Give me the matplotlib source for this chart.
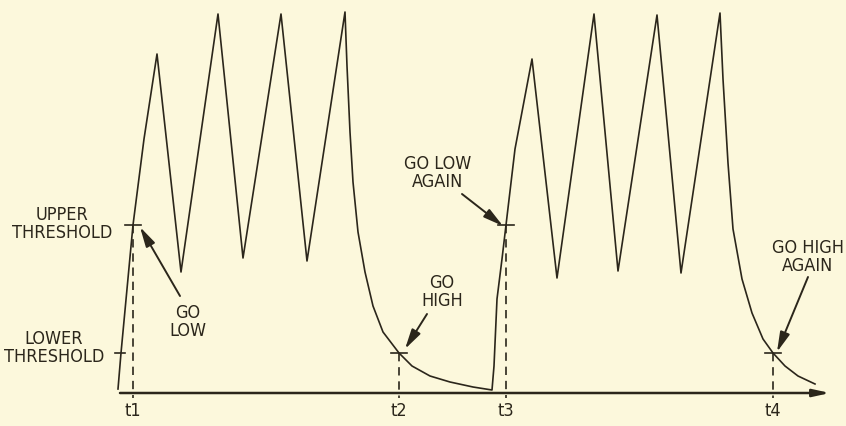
import matplotlib
matplotlib.use('agg')
import matplotlib.pyplot as plt
from matplotlib import font_manager

# waveform (time, volts - arbitrary units)
wave_t = [0.00, 0.03, 0.09, 0.15, 0.26, 0.39,
          0.63, 1.00, 1.25, 1.63, 1.89, 2.27,
          2.29, 2.32, 2.35, 2.40, 2.47, 2.55, 2.65, 2.81, 2.94, 3.12, 3.32, 3.55, 3.74,
          3.76, 3.79, 3.84, 3.88, 3.97, 4.14,
          4.39, 4.76, 5.00, 5.39, 5.63, 6.02,
          6.05, 6.10, 6.15, 6.24, 6.34, 6.45, 6.55, 6.67, 6.80, 6.97]
wave_v = [0.04, 0.40, 1.04, 1.68, 2.54, 3.39,
          1.21, 3.79, 1.35, 3.79, 1.32, 3.81,
          3.27, 2.61, 2.11, 1.61, 1.21, 0.87, 0.61, 0.40, 0.27, 0.17, 0.11, 0.06, 0.03,
          0.27, 0.94, 1.34, 1.68, 2.44, 3.34,
          1.15, 3.79, 1.22, 3.78, 1.20, 3.80,
          3.14, 2.30, 1.64, 1.14, 0.80, 0.54, 0.40, 0.27, 0.17, 0.09]

upper = 1.68
lower = 0.40

# switching instants and the threshold they cross
t_names = ['t1', 't2', 't3', 't4']
t_times = [0.15, 2.81, 3.88, 6.55]
t_levels = [upper, lower, upper, lower]

# callouts: text, text centre, arrow tail, arrow tip
notes = ['GO\nLOW', 'GO\nHIGH', 'GO LOW\nAGAIN', 'GO HIGH\nAGAIN']
note_xy = [(0.70, 0.72), (3.24, 1.02), (3.20, 2.21), (6.90, 1.37)]
tail_xy = [(0.62, 0.97), (3.09, 0.79), (3.44, 1.99), (6.90, 1.16)]
tip_xy = [(0.22, 1.66), (2.87, 0.44), (3.85, 1.67), (6.59, 0.41)]

bg = '#fcf8dc'
ink = '#2b261b'
fs = 13

# narrow face if we have one, otherwise plain DejaVu a bit smaller
names = set(f.name for f in font_manager.fontManager.ttflist)
if 'Liberation Sans Narrow' in names:
    fam = ['Liberation Sans Narrow', 'DejaVu Sans']
    stretch = 'normal'
else:
    fam = ['DejaVu Sans']
    stretch = 'condensed'
    condensed = [f for f in font_manager.fontManager.ttflist
                 if f.name == 'DejaVu Sans' and f.stretch == 'condensed']
    if not condensed:
        fs = 11.5

fig = plt.figure(figsize=(8.46, 4.27), dpi=100, facecolor=bg)
ax = fig.add_axes([0, 0, 1, 1])
ax.set_facecolor(bg)
ax.set_xlim(-1.18, 7.28)
ax.set_ylim(-0.33, 3.94)
ax.axis('off')

tk = dict(fontsize=fs, family=fam, stretch=stretch, color=ink,
          ha='center', va='center', linespacing=1.0)

# time axis with arrow
ax.annotate('', xy=(7.12, 0), xytext=(0.02, 0),
            arrowprops=dict(arrowstyle='-|>,head_length=1.0,head_width=0.22',
                            lw=1.8, color=ink, shrinkA=0, shrinkB=0),
            annotation_clip=False)

# waveform
ax.plot(wave_t, wave_v, color=ink, lw=1.2)

# dashed drop lines and the little cross ticks
for name, tt, lv in zip(t_names, t_times, t_levels):
    ax.plot([tt, tt], [lv, -0.05], color=ink, lw=1.2, ls=(0, (5, 3.5)))
    ax.plot([tt - 0.08, tt + 0.08], [lv, lv], color=ink, lw=1.2)
    ax.text(tt, -0.17, name, **tk)
ax.plot([-0.03, 0.07], [lower, lower], color=ink, lw=1.2)

# threshold labels
ax.text(-0.56, 1.70, 'UPPER\nTHRESHOLD', **tk)
ax.text(-0.64, 0.46, 'LOWER\nTHRESHOLD', **tk)

# callouts
for txt, xy, a, b in zip(notes, note_xy, tail_xy, tip_xy):
    ax.text(xy[0], xy[1], txt, **tk)
    ax.annotate('', xy=b, xytext=a,
                arrowprops=dict(arrowstyle='-|>,head_length=0.8,head_width=0.2',
                                lw=1.4, color=ink, shrinkA=0, shrinkB=0,
                                mutation_scale=15))

plt.savefig('out.png', dpi=100, facecolor=bg)
